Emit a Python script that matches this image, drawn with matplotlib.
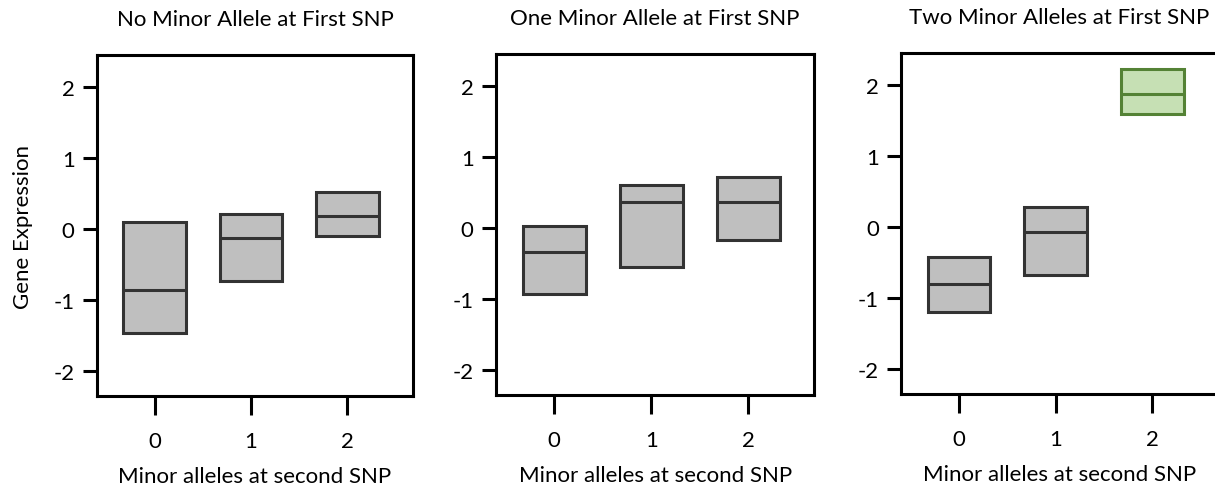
import matplotlib
matplotlib.use("Agg")
import matplotlib.pyplot as plt

plt.rcParams['font.family'] = ['Lato', 'DejaVu Sans']

# second SNP minor allele counts
positions = [0, 1, 2]
panel_titles = [
    "No Minor Allele at First SNP",
    "One Minor Allele at First SNP",
    "Two Minor Alleles at First SNP",
]

# box bounds per panel (lower, median, upper)
lower = [
    [-1.46, -0.73, -0.09],
    [-0.93, -0.55, -0.17],
    [-1.19, -0.67, 1.60],
]
median = [
    [-0.86, -0.13, 0.19],
    [-0.33, 0.37, 0.37],
    [-0.80, -0.07, 1.87],
]
upper = [
    [0.10, 0.22, 0.53],
    [0.03, 0.61, 0.72],
    [-0.42, 0.28, 2.23],
]
highlight = [None, None, 2]

GRAY_FILL = "#bfbfbf"
GRAY_EDGE = "#333333"
GREEN_FILL = "#c6e0b4"
GREEN_EDGE = "#548235"

fig = plt.figure(figsize=(12.15, 4.89), dpi=100)
ax_rects = [
    [0.0798, 0.188, 0.260, 0.697],
    [0.4082, 0.190, 0.262, 0.697],
    [0.7416, 0.192, 0.261, 0.697],
]

for i, rect in enumerate(ax_rects):
    ax = fig.add_axes(rect)
    stats = []
    for j in range(len(positions)):
        stats.append({
            "med": median[i][j], "q1": lower[i][j], "q3": upper[i][j],
            "whislo": lower[i][j], "whishi": upper[i][j], "fliers": [],
        })
    bp = ax.bxp(stats, positions=positions, widths=0.65, patch_artist=True,
                showcaps=False, showfliers=False,
                whiskerprops=dict(linewidth=0))
    for j, box in enumerate(bp["boxes"]):
        green = highlight[i] == j
        box.set_facecolor(GREEN_FILL if green else GRAY_FILL)
        box.set_edgecolor(GREEN_EDGE if green else GRAY_EDGE)
        box.set_linewidth(2.2)
        bp["medians"][j].set_color(GREEN_EDGE if green else GRAY_EDGE)
        bp["medians"][j].set_linewidth(2.2)

    ax.set_xlim(-0.6, 2.68)
    ax.set_ylim(-2.35, 2.45)
    ax.set_yticks([-2, -1, 0, 1, 2])
    ax.set_yticklabels(["-2", "-1", "0", "1", "2"])
    ax.set_xticks(positions)
    ax.set_xticklabels([str(p) for p in positions])
    ax.tick_params(axis="y", length=10, width=2.2, labelsize=16, pad=6)
    ax.tick_params(axis="x", length=14, width=2.2, labelsize=16, pad=11)
    for s in ax.spines.values():
        s.set_linewidth(2.2)
    ax.set_title(panel_titles[i], fontsize=16, pad=22)
    ax.set_xlabel("Minor alleles at second SNP", fontsize=16, labelpad=11)
    if i == 0:
        ax.set_ylabel("Gene Expression", fontsize=16, labelpad=15)

fig.savefig("out.png", dpi=100)
